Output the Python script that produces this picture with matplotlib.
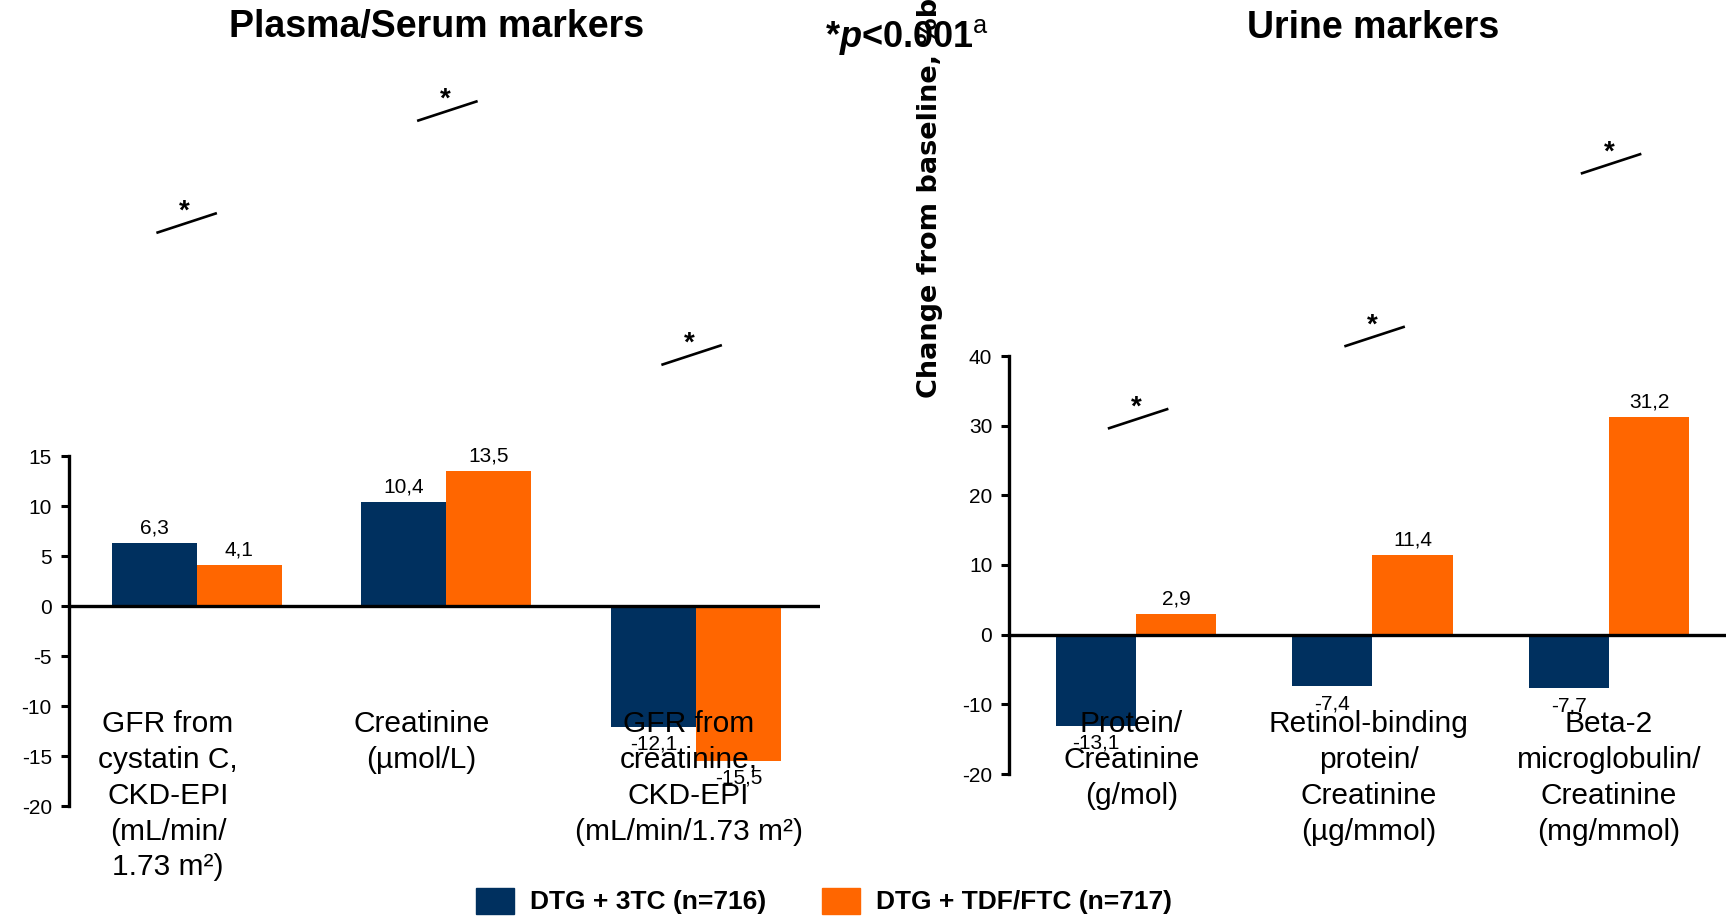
import matplotlib
matplotlib.use('Agg')
import matplotlib.pyplot as plt
import matplotlib.transforms as mtransforms
from matplotlib.lines import Line2D
from matplotlib.patches import Patch
import numpy as np

plt.rcParams['font.family'] = ['Liberation Sans', 'DejaVu Sans']
plt.rcParams['axes.unicode_minus'] = False
plt.rcParams['mathtext.fontset'] = 'custom'
plt.rcParams['mathtext.it'] = 'Liberation Sans:italic:bold'
plt.rcParams['mathtext.rm'] = 'Liberation Sans'

NAVY = '#00305F'
ORANGE = '#FF6600'

# treatment arms
arms = ['DTG + 3TC (n=716)', 'DTG + TDF/FTC (n=717)']

# plasma / serum markers
plasma_labels = ['GFR from\ncystatin C,\nCKD-EPI\n(mL/min/\n1.73 m²)',
                 'Creatinine\n(µmol/L)',
                 'GFR from\ncreatinine,\nCKD-EPI\n(mL/min/1.73 m²)']
plasma_3tc = [6.3, 10.4, -12.1]
plasma_tdf = [4.1, 13.5, -15.5]
plasma_ticks = [-20, -15, -10, -5, 0, 5, 10, 15]

# urine markers
urine_labels = ['Protein/\nCreatinine\n(g/mol)',
                'Retinol-binding\nprotein/\nCreatinine\n(µg/mmol)',
                'Beta-2\nmicroglobulin/\nCreatinine\n(mg/mmol)']
urine_3tc = [-13.1, -7.4, -7.7]
urine_tdf = [2.9, 11.4, 31.2]
urine_ticks = [-20, -10, 0, 10, 20, 30, 40]

W, H = 1733, 917
fig = plt.figure(figsize=(W / 100, H / 100), dpi=100)


def fmt(v):
    return f'{v:.1f}'.replace('.', ',')


def draw_panel(ax, labels, a, b, ticks, xlim, label_dx, sig_xy):
    x = np.arange(len(labels))
    w = 0.34
    ax.bar(x - w / 2, a, w, color=NAVY, zorder=2)
    ax.bar(x + w / 2, b, w, color=ORANGE, zorder=2)
    ax.axhline(0, color='black', lw=2.4, zorder=3)

    for xs, vals in ((x - w / 2, a), (x + w / 2, b)):
        for xi, v in zip(xs, vals):
            ax.annotate(fmt(v), (xi, v), xytext=(0, 11 if v > 0 else -12.5),
                        textcoords='offset points', ha='center', va='center',
                        fontsize=15, zorder=5)

    ax.set_xlim(*xlim)
    ax.set_ylim(ticks[0], ticks[-1])
    ax.set_yticks(ticks)
    ax.set_xticks([])
    for s in ('top', 'right', 'bottom'):
        ax.spines[s].set_visible(False)
    ax.spines['left'].set_linewidth(2.4)
    ax.tick_params(axis='y', length=6, width=2.2, labelsize=15, pad=6)

    # category names sit under the zero line
    tr = mtransforms.blended_transform_factory(ax.transData, fig.transFigure)
    for xi, dx, lab in zip(x, label_dx, labels):
        ax.text(xi + dx, 0.226, lab, transform=tr, ha='center', va='top',
                multialignment='center', fontsize=21.5,
                linespacing=1.36, zorder=4)

    # significance ticks
    for sx, sy in sig_xy:
        off = fig.dpi_scale_trans + mtransforms.ScaledTranslation(sx, sy, ax.transData)
        fig.add_artist(Line2D([-0.29, 0.29], [-0.095, 0.095], transform=off,
                              color='black', lw=1.9))
        fig.text(-0.022, 0.04, '*', transform=off, ha='center', va='baseline',
                 fontsize=20, fontweight='bold')


ax1 = fig.add_axes([68.5 / W, 111 / H, (820 - 68.5) / W, 350 / H])
draw_panel(ax1, plasma_labels, plasma_3tc, plasma_tdf, plasma_ticks,
           (-0.513, 2.496), [-0.115, -0.1, -0.03],
           [(-0.04, 38.3), (1.004, 49.5), (1.982, 25.1)])

ax2 = fig.add_axes([1009 / W, 143 / H, (1726 - 1009) / W, 418 / H])
draw_panel(ax2, urine_labels, urine_3tc, urine_tdf, urine_ticks,
           (-0.537, 2.495), [-0.02, -0.015, 0.0],
           [(0.009, 31.0), (1.009, 42.8), (2.009, 67.6)])

fig.text(436.5 / W, 1 - 37.5 / H, 'Plasma/Serum markers', ha='center',
         va='baseline', fontsize=27, fontweight='bold')
fig.text(1373.5 / W, 1 - 37.5 / H, 'Urine markers', ha='center',
         va='baseline', fontsize=27, fontweight='bold')
fig.text(825 / W, 1 - 47 / H, r'*$\mathit{p}$<0.001$^{\mathrm{a}}$',
         ha='left', va='baseline', fontsize=26, fontweight='bold')
fig.text(930 / W, 1 - 398 / H, 'Change from baseline, %b', rotation=90,
         ha='center', va='bottom', fontsize=19.5, fontweight='bold',
         family='DejaVu Sans')

handles = [Patch(color=NAVY), Patch(color=ORANGE)]
fig.legend(handles, arms, loc='center', bbox_to_anchor=(824 / W, 1 - 901 / H),
           ncol=2, frameon=False, handlelength=1.44, handleheight=1.14,
           handletextpad=0.64, columnspacing=2.08,
           prop={'weight': 'bold', 'size': 19})

fig.savefig('out.png', dpi=100)
